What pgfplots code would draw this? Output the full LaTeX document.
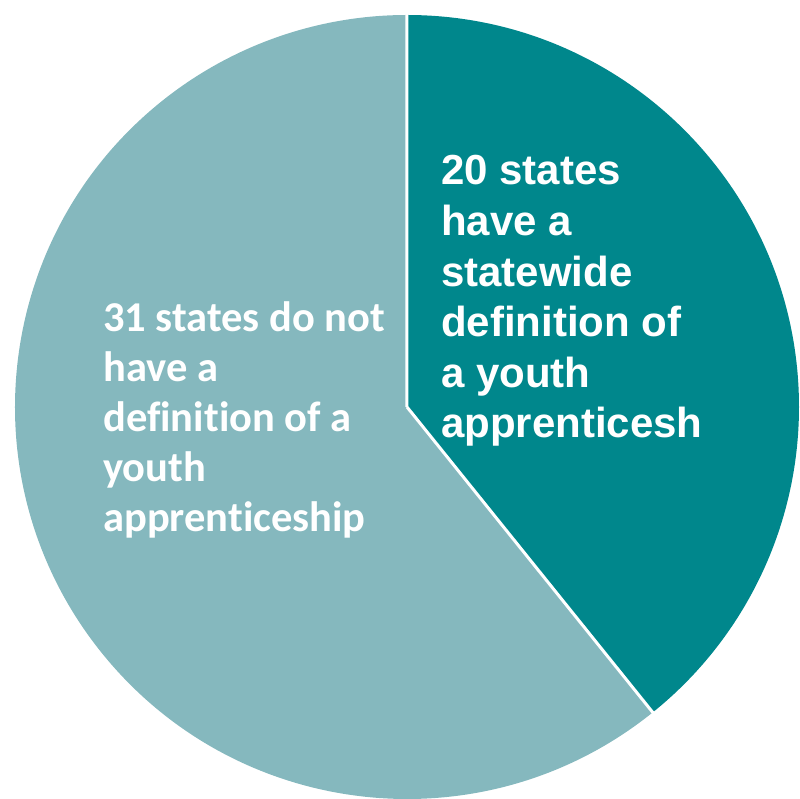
\documentclass[border=0pt]{standalone}
\usepackage{pgfplots}
\pgfplotsset{compat=1.18}
\usepackage{fontspec}
\setmainfont{Liberation Sans}
\newfontfamily\calibri[Ligatures=NoCommon]{Carlito}
\definecolor{darkteal}{HTML}{00878C}
\definecolor{lightteal}{HTML}{85B8BE}

% data: states with / without a statewide definition
\pgfmathsetmacro{\have}{20}
\pgfmathsetmacro{\havenot}{31}
\pgfmathsetmacro{\splitang}{90-360*\have/(\have+\havenot)}

\tikzset{
    rlab/.style={anchor=base west, inner sep=0, text=white,
        font=\fontsize{42bp}{50bp}\selectfont\bfseries},
    llab/.style={anchor=base west, inner sep=0, text=white,
        font=\fontsize{42.5bp}{50bp}\selectfont\calibri\bfseries}
}

\begin{document}
\begin{tikzpicture}
\begin{axis}[
    scale only axis,
    width=800bp, height=799bp,
    xmin=0, xmax=800,
    ymin=0, ymax=799,
    hide axis,
    clip=false
]
% slices
\fill[lightteal] (axis cs:407,392) -- ++(\splitang:392bp)
    arc[start angle=\splitang, end angle=-270, radius=392bp] -- cycle;
\fill[darkteal] (axis cs:407,392) -- ++(90:392bp)
    arc[start angle=90, end angle=\splitang, radius=392bp] -- cycle;
\draw[white, line width=3bp] (axis cs:407,392) -- ++(90:394bp)
    (axis cs:407,392) -- ++(\splitang:394bp);

% labels
\node[rlab] at (axis cs:441,614) {20 states};
\node[rlab] at (axis cs:441,563.4) {have a};
\node[rlab] at (axis cs:441,512.8) {statewide};
\node[rlab] at (axis cs:441,462.2) {definition of};
\node[rlab] at (axis cs:441,411.6) {a youth};
\node[rlab] at (axis cs:441,361) {apprenticesh};

\node[llab] at (axis cs:103,467) {31 states do not};
\node[llab] at (axis cs:103,417) {have a};
\node[llab] at (axis cs:103,367) {definition of a};
\node[llab] at (axis cs:103,317) {youth};
\node[llab] at (axis cs:103,267) {apprenticeship};
\end{axis}
\pgfresetboundingbox
\path (0,0) rectangle (800bp,799bp);
\end{tikzpicture}
\end{document}
